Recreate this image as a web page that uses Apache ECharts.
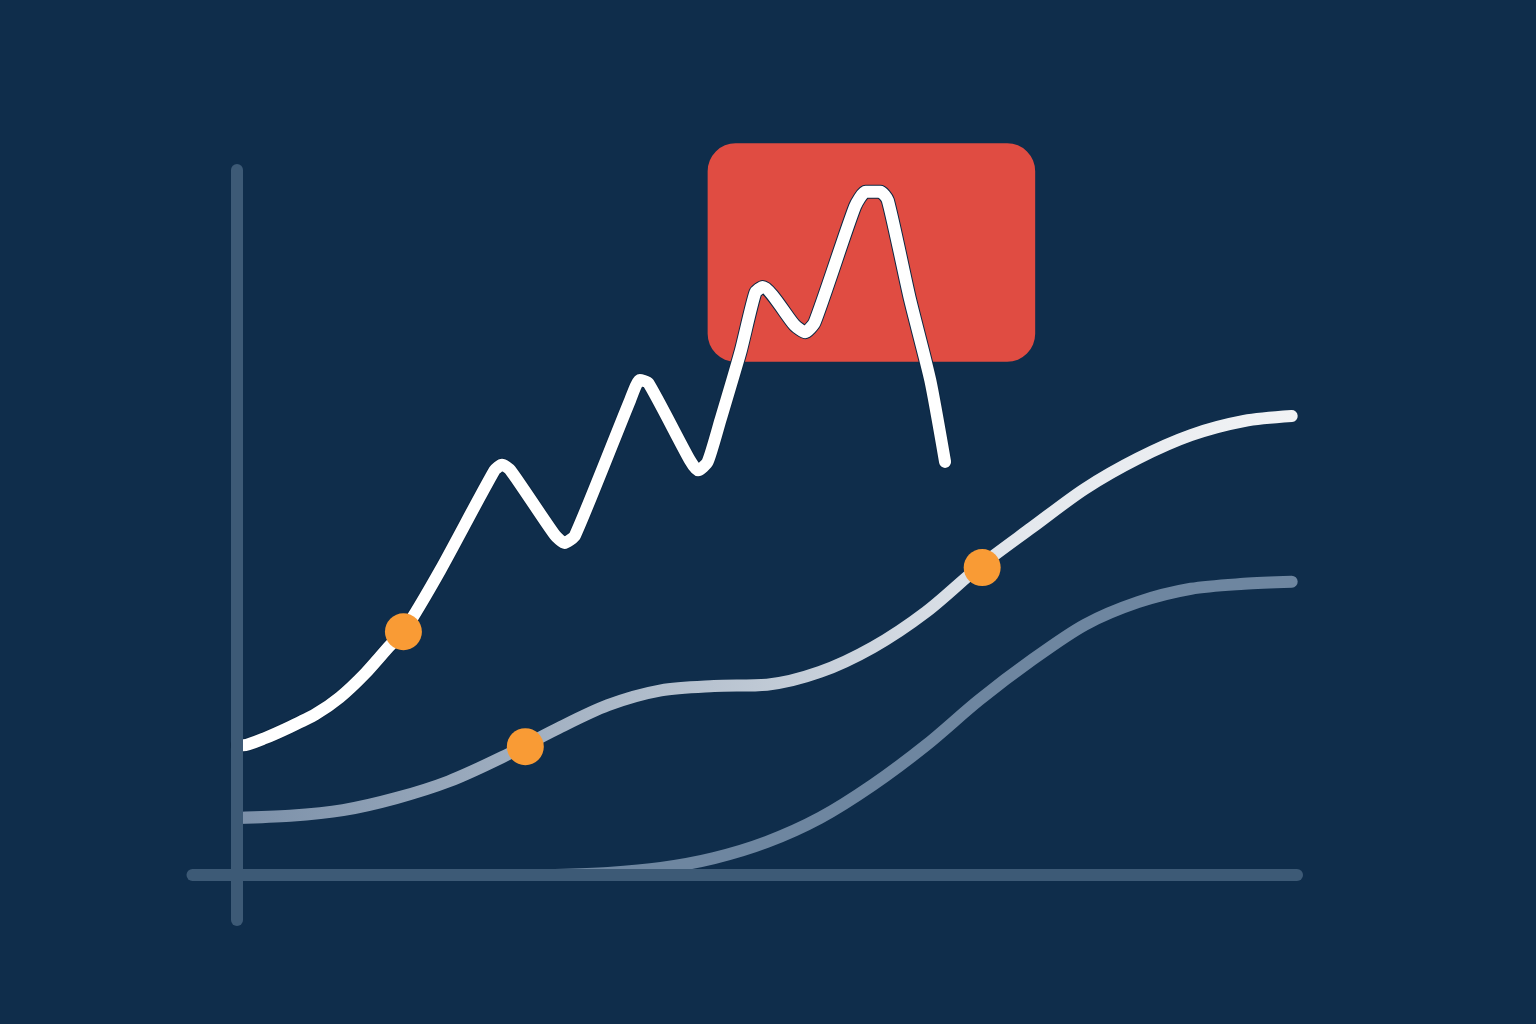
<!DOCTYPE html>
<html>
<head>
<meta charset="utf-8">
<script src="https://cdn.jsdelivr.net/npm/echarts@6/dist/echarts.min.js"></script>
<style>
html,body{margin:0;padding:0;background:#0f2d4b;}
#chart{width:1536px;height:1024px;}
</style>
</head>
<body>
<div id="chart"></div>
<script>
// Data (x: 0-100 along the horizontal axis, y: 0-100 up the vertical axis)
const jaggedLine = [
  [0,18.4],[0.6,18.4],[2.6,19.4],[5.0,21.0],[7.4,22.8],[9.7,25.2],[12.1,28.6],[14.4,32.5],[15.7,34.5],
  [19.2,43.3],[24.3,57.4],[25.0,58.2],[25.8,57.4],[30.0,48.2],[30.9,47.1],[31.9,48.2],
  [37.1,67.4],[38.0,70.2],[38.8,69.8],[42.7,58.9],[43.5,57.4],[44.4,58.6],[45.6,64.5],
  [47.5,74.2],[48.9,82.6],[49.6,83.4],[52.6,78.0],[53.6,77.0],[54.5,78.4],
  [58.3,94.8],[59.3,96.9],[60.7,96.9],[61.4,95.7],[63.5,81.6],[65.4,70.2],[66.8,58.6]
];
const middleLine = [
  [0,8.1],[5,8.4],[10,9.2],[15,10.9],[20,13.3],[25,16.7],[30,20.6],[35,24.1],[40,26.2],
  [45,26.8],[50,27.0],[55,28.8],[60,32.3],[65,37.3],[70,43.7],[75,49.3],[80,54.8],
  [85,59.1],[90,62.4],[95,64.4],[99.5,65.1]
];
const lowerLine = [
  [30,0],[35,0.3],[40,1.0],[45,2.4],[50,4.7],[55,8.1],[60,12.8],[65,18.4],[70,24.8],
  [75,30.5],[80,35.5],[85,38.7],[90,40.6],[95,41.3],[99.5,41.6]
];
const highlightPoints = [[15.7,34.5],[27.2,18.2],[70.3,43.6]];
const highlightBox = [[44.4,103.8,75.3,72.8]];
const verticalAxis = [[0,-6.4],[0,100]];
const horizontalAxis = [[-4.2,0],[100,0]];

const chart = echarts.init(document.getElementById('chart'));
chart.setOption({
  backgroundColor: '#0f2d4b',
  animation: false,
  grid: {left: 184, top: 99.5, width: 1113, height: 846},
  xAxis: {type: 'value', min: -5, max: 100, show: false},
  yAxis: {type: 'value', min: -10, max: 110, show: false},
  series: [
    {
      type: 'custom', z: 1, clip: false,
      data: highlightBox,
      renderItem: function (params, api) {
        const p1 = api.coord([api.value(0), api.value(1)]);
        const p2 = api.coord([api.value(2), api.value(3)]);
        return {
          type: 'rect',
          shape: {x: p1[0], y: p1[1], width: p2[0]-p1[0], height: p2[1]-p1[1], r: 28},
          style: {fill: '#e04c42'}
        };
      }
    },
    {
      type: 'line', z: 2, clip: false, symbol: 'none', smooth: 0.3,
      data: lowerLine,
      lineStyle: {color: '#6e86a0', width: 12, cap: 'round'}
    },
    {
      type: 'line', z: 3, clip: false, symbol: 'none', smooth: 0.3,
      data: middleLine,
      lineStyle: {
        width: 12, cap: 'round',
        color: new echarts.graphic.LinearGradient(0, 0, 1, 0, [
          {offset: 0, color: '#7a8fa8'},
          {offset: 0.45, color: '#b8c3d0'},
          {offset: 0.75, color: '#e4e8ed'},
          {offset: 1, color: '#f2f3f5'}
        ])
      }
    },
    {
      type: 'line', z: 4, clip: false, symbol: 'none', smooth: 0.2,
      data: jaggedLine,
      lineStyle: {color: '#0c2742', width: 14, cap: 'round', join: 'round'}
    },
    {
      type: 'line', z: 5, clip: false, symbol: 'none', smooth: 0.2,
      data: jaggedLine,
      lineStyle: {color: '#ffffff', width: 12, cap: 'round', join: 'round'}
    },
    {
      type: 'line', z: 6, clip: false, symbol: 'none',
      data: verticalAxis,
      lineStyle: {color: '#3d5a76', width: 12, cap: 'round'}
    },
    {
      type: 'line', z: 6, clip: false, symbol: 'none',
      data: horizontalAxis,
      lineStyle: {color: '#3d5a76', width: 12, cap: 'round'}
    },
    {
      type: 'scatter', z: 7, clip: false,
      data: highlightPoints,
      symbolSize: 37,
      itemStyle: {color: '#f99b35', opacity: 1}
    }
  ]
});
</script>
</body>
</html>
